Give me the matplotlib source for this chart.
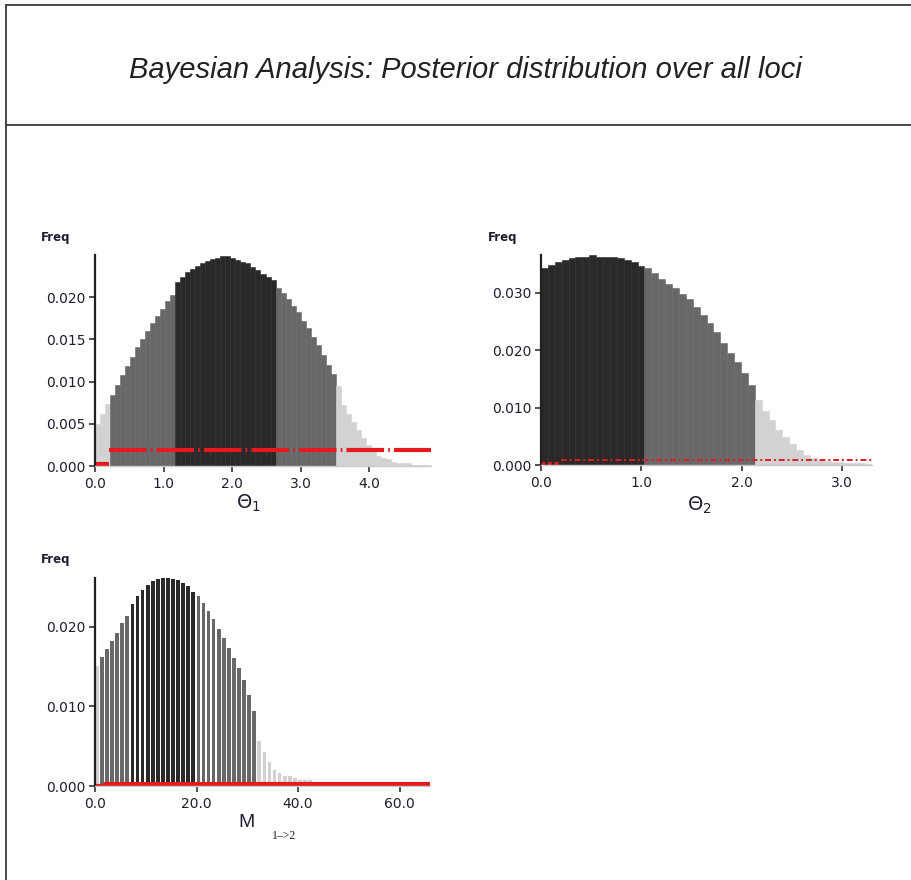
import numpy as np
import matplotlib
matplotlib.use("Agg")
import matplotlib.pyplot as plt
import matplotlib.ticker as ticker
from matplotlib.lines import Line2D

# ---- data ---------------------------------------------------------------
# Theta_1 posterior histogram (67 bins over 0 .. 4.9)
theta1_freq = [0.0050, 0.0062, 0.0074, 0.0084, 0.0096, 0.0108, 0.0118, 0.0129,
               0.0141, 0.0150, 0.0160, 0.0170, 0.0178, 0.0186, 0.0195, 0.0203,
               0.0218, 0.0224, 0.0230, 0.0234, 0.0237, 0.0240, 0.0243, 0.0245,
               0.0247, 0.0249, 0.0249, 0.0247, 0.0244, 0.0242, 0.0240, 0.0236,
               0.0232, 0.0228, 0.0224, 0.0220, 0.0211, 0.0205, 0.0198, 0.0190,
               0.0182, 0.0172, 0.0163, 0.0153, 0.0143, 0.0131, 0.0120, 0.0109,
               0.0095, 0.0072, 0.0062, 0.0052, 0.0043, 0.0033, 0.0025, 0.0018,
               0.0012, 0.0009, 0.0008, 0.0005, 0.0004, 0.0004, 0.0003, 0.0001,
               0.0001, 0.0001, 0.0001]
theta1_range = (0.0, 4.9)
theta1_pcts = [0.19, 1.15, 2.60, 3.53]      # 2.5%, 25%, 75%, 97.5%
theta1_prior_low = ([0.0, 0.2], [0.0002, 0.0002])
theta1_prior_high = ([0.2, 4.9], [0.0019, 0.0019])

# Theta_2 posterior histogram (48 bins over 0 .. 3.3)
theta2_freq = [0.0343, 0.0349, 0.0353, 0.0357, 0.0360, 0.0362, 0.0363, 0.0366,
               0.0363, 0.0363, 0.0363, 0.0361, 0.0358, 0.0353, 0.0347, 0.0343,
               0.0334, 0.0325, 0.0316, 0.0308, 0.0298, 0.0290, 0.0275, 0.0262,
               0.0248, 0.0232, 0.0212, 0.0196, 0.0180, 0.0160, 0.0140, 0.0113,
               0.0094, 0.0078, 0.0061, 0.0048, 0.0036, 0.0027, 0.0018, 0.0013,
               0.0009, 0.0007, 0.0005, 0.0005, 0.0004, 0.0003, 0.0003, 0.0002]
theta2_range = (0.0, 3.3)
theta2_pcts = [0.0, 0.0, 1.0, 2.12]
theta2_prior_low = ([0.0, 0.2], [0.0002, 0.0002])
theta2_prior_high = ([0.2, 3.3], [0.0008, 0.0008])

# M 1->2 posterior histogram (bins of width 1 over 0 .. 66)
m12_freq = [0.0150, 0.0162, 0.0172, 0.0182, 0.0192, 0.0204, 0.0213, 0.0228,
            0.0238, 0.0246, 0.0252, 0.0257, 0.0260, 0.0261, 0.0261, 0.0260,
            0.0258, 0.0255, 0.0251, 0.0243, 0.0238, 0.0230, 0.0219, 0.0209,
            0.0197, 0.0186, 0.0173, 0.0161, 0.0148, 0.0133, 0.0114, 0.0094,
            0.0056, 0.0043, 0.0030, 0.0020, 0.0016, 0.0013, 0.0012, 0.0010,
            0.0008, 0.0008, 0.0007, 0.0005, 0.0004]
m12_range = (0.0, 66.0)
m12_pcts = [1.0, 7.0, 20.2, 32.0]
m12_prior_low = ([0.0, 1.7], [0.00005, 0.00005])
m12_prior_high = ([1.7, 66.0], [0.00025, 0.00025])

# ---- style ---------------------------------------------------------------
W, H = 911, 880
LIGHT, MID, DARK = '#d2d2d4', '#68686a', '#2a2829'
RED = '#e41a1c'
TXT = '#1e1e30'


def fx(px):
    return px / W


def fy(py):
    return 1 - py / H


def shade(centers, pcts):
    cols = []
    for c in centers:
        if c < pcts[0] or c >= pcts[3]:
            cols.append(LIGHT)
        elif c < pcts[1] or c >= pcts[2]:
            cols.append(MID)
        else:
            cols.append(DARK)
    return cols


def setup(ax, xlim, ylim, xticks, yticks):
    ax.set_xlim(*xlim)
    ax.set_ylim(*ylim)
    for s in ['top', 'right']:
        ax.spines[s].set_visible(False)
    ax.spines['left'].set_linewidth(1.6)
    ax.spines['left'].set_color('#202020')
    ax.spines['bottom'].set_color('#c8c8c8')
    ax.spines['bottom'].set_linewidth(1.0)
    ax.set_xticks(xticks)
    ax.set_yticks(yticks)
    ax.xaxis.set_major_formatter(ticker.FormatStrFormatter('%.1f'))
    ax.yaxis.set_major_formatter(ticker.FormatStrFormatter('%.3f'))
    ax.tick_params(direction='out', length=4, width=1.1, color='#202020',
                   labelsize=10, labelcolor=TXT, pad=3)
    ax.tick_params(axis='x', pad=4)
    ax.set_facecolor('none')


fig = plt.figure(figsize=(W / 100, H / 100), dpi=100)

# frame of the page
fig.add_artist(Line2D([fx(6), fx(6)], [0, fy(5)], transform=fig.transFigure,
                      color='#3a3a3a', lw=1.3))
fig.add_artist(Line2D([fx(6), 1], [fy(5), fy(5)], transform=fig.transFigure,
                      color='#3a3a3a', lw=1.3))
fig.add_artist(Line2D([fx(6), 1], [fy(125), fy(125)], transform=fig.transFigure,
                      color='#3a3a3a', lw=1.3))
fig.text(fx(465), fy(78), 'Bayesian Analysis: Posterior distribution over all loci',
         ha='center', va='baseline', fontsize=21, style='italic', color='#222222',
         family='Liberation Sans')

# ---- panel 1 : Theta_1 ---------------------------------------------------
ax1 = fig.add_axes([fx(95), fy(466), (431 - 95) / W, (466 - 255) / H])
edges = np.linspace(theta1_range[0], theta1_range[1], len(theta1_freq) + 1)
w = edges[1] - edges[0]
c = shade(edges[:-1] + w / 2, theta1_pcts)
ax1.bar(edges[:-1], theta1_freq, width=w, align='edge', color=c, edgecolor=c, lw=0.4)
ax1.plot(*theta1_prior_low, color=RED, lw=3, solid_capstyle='butt')
ax1.plot(*theta1_prior_high, color=RED, lw=3, dashes=(9, 1, 0.4, 1))
setup(ax1, theta1_range, (0, 0.025), [0, 1, 2, 3, 4],
      [0, 0.005, 0.010, 0.015, 0.020])

# ---- panel 2 : Theta_2 ---------------------------------------------------
ax2 = fig.add_axes([fx(541), fy(465), (872 - 541) / W, (465 - 255) / H])
edges = np.linspace(theta2_range[0], theta2_range[1], len(theta2_freq) + 1)
w = edges[1] - edges[0]
c = shade(edges[:-1] + w / 2, theta2_pcts)
ax2.bar(edges[:-1], theta2_freq, width=w, align='edge', color=c, edgecolor=c, lw=0.4)
ax2.plot(*theta2_prior_low, color=RED, lw=3, dashes=(1, 0.6))
ax2.plot(*theta2_prior_high, color=RED, lw=1.4, dashes=(3, 1.5, 1, 1.5))
setup(ax2, theta2_range, (0, 0.0366), [0, 1, 2, 3],
      [0, 0.010, 0.020, 0.030])

# ---- panel 3 : M 1->2 ----------------------------------------------------
ax3 = fig.add_axes([fx(95), fy(786), (430 - 95) / W, (786 - 578) / H])
left = np.arange(len(m12_freq)) * 1.0
c = shade(left + 0.5, m12_pcts)
ax3.bar(left, m12_freq, width=0.74, align='edge', color=c, lw=0)
ax3.plot(*m12_prior_low, color=RED, lw=3, solid_capstyle='butt')
ax3.plot(*m12_prior_high, color=RED, lw=3, solid_capstyle='butt')
setup(ax3, m12_range, (0, 0.0261), [0, 20, 40, 60], [0, 0.010, 0.020])

# ---- axis titles -----------------------------------------------------------
for px, py in [(41, 237), (488, 237), (41, 560)]:
    fig.text(fx(px), fy(py), 'Freq', ha='left', va='center', fontsize=8.5,
             fontweight='bold', color=TXT)
fig.text(fx(248), fy(503), r'$\Theta_1$', ha='center', va='center',
         fontsize=14, color=TXT)
fig.text(fx(699), fy(505), r'$\Theta_2$', ha='center', va='center',
         fontsize=14, color=TXT)
fig.text(fx(247), fy(822), 'M', ha='center', va='center', fontsize=14,
         color=TXT, family='Liberation Sans')
fig.text(fx(284), fy(836), '1\u2013>2', ha='center', va='center', fontsize=8.5,
         color=TXT, family='Liberation Serif')

fig.savefig('out.png', dpi=100)
